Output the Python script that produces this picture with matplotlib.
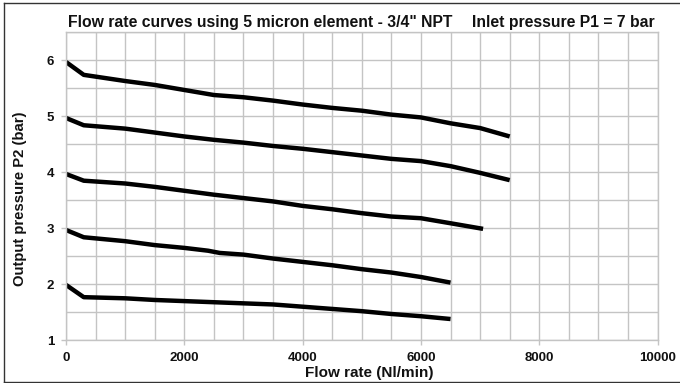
import matplotlib
matplotlib.use("Agg")
import matplotlib.pyplot as plt
from matplotlib.lines import Line2D

plt.rcParams['font.family'] = ['Liberation Sans', 'DejaVu Sans']

# ---- data ----
x_p6 = [0, 300, 1000, 1500, 2000, 2500, 3000, 3500, 4000, 4500, 5000, 5500, 6000, 6500, 7000, 7500]
y_p6 = [5.97, 5.74, 5.63, 5.56, 5.47, 5.38, 5.34, 5.28, 5.21, 5.15, 5.10, 5.03, 4.98, 4.875, 4.79, 4.64]

x_p5 = [0, 300, 1000, 1500, 2000, 2500, 3000, 3500, 4000, 4500, 5000, 5500, 6000, 6500, 7000, 7500]
y_p5 = [4.97, 4.84, 4.78, 4.71, 4.64, 4.58, 4.53, 4.47, 4.42, 4.36, 4.30, 4.24, 4.20, 4.11, 3.99, 3.86]

x_p4 = [0, 300, 1000, 1500, 2000, 2500, 3000, 3500, 4000, 4500, 5000, 5500, 6000, 6500, 7050]
y_p4 = [3.97, 3.85, 3.80, 3.74, 3.67, 3.60, 3.54, 3.48, 3.40, 3.34, 3.27, 3.21, 3.18, 3.09, 2.99]

x_p3 = [0, 300, 1000, 1500, 2000, 2400, 2600, 3000, 3500, 4000, 4500, 5000, 5500, 6000, 6500]
y_p3 = [2.97, 2.84, 2.77, 2.70, 2.65, 2.60, 2.56, 2.53, 2.46, 2.40, 2.34, 2.27, 2.21, 2.13, 2.03]

x_p2 = [0, 300, 1000, 1500, 2000, 2500, 3000, 3500, 4000, 4500, 5000, 5500, 6000, 6500]
y_p2 = [1.99, 1.77, 1.75, 1.72, 1.70, 1.68, 1.66, 1.64, 1.60, 1.56, 1.52, 1.47, 1.43, 1.38]

x_ticks = [0, 2000, 4000, 6000, 8000, 10000]
y_ticks = [1, 2, 3, 4, 5, 6]

title_text = 'Flow rate curves using 5 micron element - 3/4" NPT'
inlet_text = 'Inlet pressure P1 = 7 bar'
xlabel_text = 'Flow rate (Nl/min)'
ylabel_text = 'Output pressure P2 (bar)'

# ---- figure ----
W, H = 680, 383
fig = plt.figure(figsize=(W / 100, H / 100), dpi=100)
fig.patch.set_facecolor('white')

ax_l, ax_r, ax_t, ax_b = 66, 657.6, 32.3, 340.3
ax = fig.add_axes([ax_l / W, 1 - ax_b / H, (ax_r - ax_l) / W, (ax_b - ax_t) / H])

grid_c = '#c4c4c4'
ax.set_xlim(0, 10000)
ax.set_ylim(1, 6.5)
ax.set_xticks(x_ticks)
ax.set_yticks(y_ticks)
ax.set_xticks([v for v in range(0, 10001, 500)], minor=True)
ax.set_yticks([1 + 0.5 * i for i in range(12)], minor=True)
ax.grid(True, which='both', color=grid_c, linewidth=1.0)
ax.set_axisbelow(True)
for s in ax.spines.values():
    s.set_color(grid_c)
    s.set_linewidth(1.0)
ax.tick_params(axis='both', which='major', direction='out', length=3.5, width=1.0,
               color=grid_c, labelsize=9.5, pad=5)
ax.tick_params(axis='both', which='minor', length=0)
for lab in ax.get_xticklabels() + ax.get_yticklabels():
    lab.set_fontweight('bold')
    lab.set_color('#111111')

for xs, ys in [(x_p6, y_p6), (x_p5, y_p5), (x_p4, y_p4), (x_p3, y_p3), (x_p2, y_p2)]:
    ax.plot(xs, ys, color='black', linewidth=3.2, solid_capstyle='butt', solid_joinstyle='round')

fig.text(68 / W, 1 - 26.7 / H, title_text, fontsize=11.3, fontweight='bold',
         ha='left', va='baseline', color='#111111')
fig.text(655 / W, 1 - 26.7 / H, inlet_text, fontsize=11.3, fontweight='bold',
         ha='right', va='baseline', color='#111111')
fig.text(369 / W, 1 - 373 / H, xlabel_text, fontsize=11, fontweight='bold',
         ha='center', va='center', color='#111111')
fig.text(20 / W, 1 - 199 / H, ylabel_text, fontsize=10.7, fontweight='bold',
         ha='center', va='center', rotation=90, color='#111111')

# figure border
bc = '#333333'
fig.add_artist(Line2D([3.5 / W, 3.5 / W], [1 - 2.7 / H, 1 - 381.7 / H], color=bc, lw=1.0,
                      transform=fig.transFigure))
fig.add_artist(Line2D([3.5 / W, 1.0], [1 - 2.7 / H, 1 - 2.7 / H], color=bc, lw=1.0,
                      transform=fig.transFigure))
fig.add_artist(Line2D([3.5 / W, 1.0], [1 - 381.7 / H, 1 - 381.7 / H], color=bc, lw=1.0,
                      transform=fig.transFigure))

fig.savefig('out.png', dpi=100, facecolor='white')
